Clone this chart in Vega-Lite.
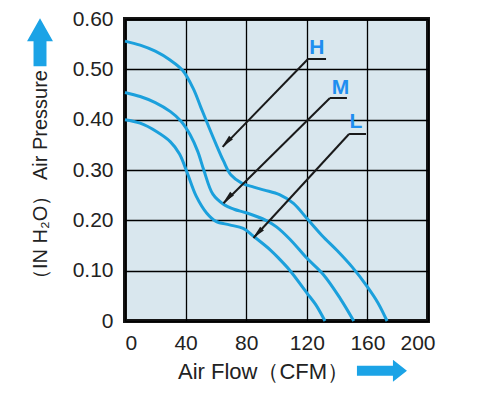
{
  "$schema": "https://vega.github.io/schema/vega-lite/v6.json",
  "autosize": "none",
  "width": 303,
  "height": 302,
  "padding": {"left": 125, "top": 19, "right": 73, "bottom": 72},
  "background": "#ffffff",
  "config": {
    "view": {"fill": "#d9e7ee", "stroke": "#151515", "strokeWidth": 4},
    "font": "Liberation Sans",
    "axis": {
      "domain": false,
      "ticks": false,
      "grid": true,
      "gridColor": "#000000",
      "gridWidth": 1.3,
      "gridOpacity": 1,
      "labelFont": "Liberation Sans",
      "labelFontSize": 21,
      "labelColor": "#222222",
      "titleFont": "Liberation Sans",
      "titleFontSize": 21,
      "titleFontWeight": "normal",
      "titleColor": "#222222"
    }
  },
  "datasets": {
    "curves": [
      {"series": "H", "cfm": 0, "inH2O": 0.556},
      {"series": "H", "cfm": 10, "inH2O": 0.548},
      {"series": "H", "cfm": 20, "inH2O": 0.536},
      {"series": "H", "cfm": 30, "inH2O": 0.518},
      {"series": "H", "cfm": 38, "inH2O": 0.498},
      {"series": "H", "cfm": 45, "inH2O": 0.462},
      {"series": "H", "cfm": 50, "inH2O": 0.425},
      {"series": "H", "cfm": 55, "inH2O": 0.388},
      {"series": "H", "cfm": 60, "inH2O": 0.352},
      {"series": "H", "cfm": 65, "inH2O": 0.318},
      {"series": "H", "cfm": 70, "inH2O": 0.29},
      {"series": "H", "cfm": 77, "inH2O": 0.274},
      {"series": "H", "cfm": 85, "inH2O": 0.266},
      {"series": "H", "cfm": 92, "inH2O": 0.26},
      {"series": "H", "cfm": 102, "inH2O": 0.251},
      {"series": "H", "cfm": 111, "inH2O": 0.234},
      {"series": "H", "cfm": 120, "inH2O": 0.204},
      {"series": "H", "cfm": 130, "inH2O": 0.17},
      {"series": "H", "cfm": 140, "inH2O": 0.14},
      {"series": "H", "cfm": 150, "inH2O": 0.107},
      {"series": "H", "cfm": 160, "inH2O": 0.068},
      {"series": "H", "cfm": 167, "inH2O": 0.036},
      {"series": "H", "cfm": 173, "inH2O": 0.0},
      {"series": "M", "cfm": 0, "inH2O": 0.454},
      {"series": "M", "cfm": 10, "inH2O": 0.446},
      {"series": "M", "cfm": 20, "inH2O": 0.434},
      {"series": "M", "cfm": 30, "inH2O": 0.416},
      {"series": "M", "cfm": 37, "inH2O": 0.397},
      {"series": "M", "cfm": 43, "inH2O": 0.37},
      {"series": "M", "cfm": 48, "inH2O": 0.337},
      {"series": "M", "cfm": 52, "inH2O": 0.3},
      {"series": "M", "cfm": 58, "inH2O": 0.252},
      {"series": "M", "cfm": 65, "inH2O": 0.232},
      {"series": "M", "cfm": 72, "inH2O": 0.222},
      {"series": "M", "cfm": 80, "inH2O": 0.215},
      {"series": "M", "cfm": 93, "inH2O": 0.2},
      {"series": "M", "cfm": 100, "inH2O": 0.187},
      {"series": "M", "cfm": 109, "inH2O": 0.162},
      {"series": "M", "cfm": 120, "inH2O": 0.125},
      {"series": "M", "cfm": 131, "inH2O": 0.092},
      {"series": "M", "cfm": 142, "inH2O": 0.045},
      {"series": "M", "cfm": 151, "inH2O": 0.0},
      {"series": "L", "cfm": 0, "inH2O": 0.4},
      {"series": "L", "cfm": 10, "inH2O": 0.393},
      {"series": "L", "cfm": 21, "inH2O": 0.376},
      {"series": "L", "cfm": 30, "inH2O": 0.356},
      {"series": "L", "cfm": 36, "inH2O": 0.332},
      {"series": "L", "cfm": 41, "inH2O": 0.295},
      {"series": "L", "cfm": 47, "inH2O": 0.248},
      {"series": "L", "cfm": 54, "inH2O": 0.214},
      {"series": "L", "cfm": 60, "inH2O": 0.198},
      {"series": "L", "cfm": 69, "inH2O": 0.191},
      {"series": "L", "cfm": 78, "inH2O": 0.184},
      {"series": "L", "cfm": 85, "inH2O": 0.168},
      {"series": "L", "cfm": 96, "inH2O": 0.141},
      {"series": "L", "cfm": 102, "inH2O": 0.123},
      {"series": "L", "cfm": 109, "inH2O": 0.1},
      {"series": "L", "cfm": 120, "inH2O": 0.056},
      {"series": "L", "cfm": 126, "inH2O": 0.032},
      {"series": "L", "cfm": 132, "inH2O": 0.0}
    ],
    "leaders": [
      {"series": "H", "x": 132.7, "y": 0.5205, "x2": 120.8, "y2": 0.5205},
      {"series": "H", "x": 120.8, "y": 0.5205, "x2": 64.5, "y2": 0.346},
      {"series": "M", "x": 146.5, "y": 0.443, "x2": 135.3, "y2": 0.443},
      {"series": "M", "x": 135.3, "y": 0.443, "x2": 65.0, "y2": 0.234},
      {"series": "L", "x": 159.1, "y": 0.3715, "x2": 147.9, "y2": 0.3715},
      {"series": "L", "x": 147.9, "y": 0.3715, "x2": 84.8, "y2": 0.165}
    ],
    "tips": [
      {"series": "H", "x": 64.0, "y": 0.3457},
      {"series": "M", "x": 64.7, "y": 0.2344},
      {"series": "L", "x": 84.5, "y": 0.1649}
    ],
    "labels": [
      {"series": "H", "x": 126.6, "y": 0.5424},
      {"series": "M", "x": 142.2, "y": 0.4639},
      {"series": "L", "x": 152.4, "y": 0.3944}
    ],
    "rightArrow": [{"x": 169.6, "y": -0.099}],
    "upArrow": [{"x": -56.1, "y": 0.554}]
  },
  "layer": [
    {
      "data": {"name": "curves"},
      "mark": {"type": "line", "interpolate": "catmull-rom", "color": "#1ba0dc", "strokeWidth": 3},
      "encoding": {
        "x": {
          "field": "cfm", "type": "quantitative",
          "scale": {"domain": [0, 200], "nice": false},
          "axis": {
            "values": [0, 40, 80, 120, 160, 200],
            "labelPadding": 11,
            "labelOffset": {"condition": {"test": "datum.value == 200", "value": 7}, "value": 0},
            "title": "Air Flow（CFM）",
            "titleFontSize": 22,
            "titleX": 138, "titleY": 50,
            "titleAlign": "center", "titleBaseline": "middle"
          }
        },
        "y": {
          "field": "inH2O", "type": "quantitative",
          "scale": {"domain": [0, 0.6], "nice": false},
          "axis": {
            "values": [0, 0.1, 0.2, 0.3, 0.4, 0.5, 0.6],
            "labelExpr": "datum.value == 0 ? '0' : format(datum.value, '.2f')",
            "labelPadding": 12,
            "title": "（IN H₂O） Air Pressure",
            "titleFontSize": 20,
            "titleX": -85, "titleY": 160,
            "titleAlign": "center", "titleBaseline": "middle", "titleAngle": 270
          }
        },
        "detail": {"field": "series"}
      }
    },
    {
      "data": {"name": "leaders"},
      "mark": {"type": "rule", "color": "#1a1a1a", "strokeWidth": 2},
      "encoding": {
        "x": {"field": "x", "type": "quantitative"},
        "y": {"field": "y", "type": "quantitative"},
        "x2": {"field": "x2"},
        "y2": {"field": "y2"}
      }
    },
    {
      "data": {"name": "tips"},
      "mark": {"type": "point", "shape": "M0,0L0.4,2L-0.4,2Z", "filled": true, "color": "#1a1a1a", "opacity": 1, "size": 169, "angle": 224},
      "encoding": {
        "x": {"field": "x", "type": "quantitative"},
        "y": {"field": "y", "type": "quantitative"}
      }
    },
    {
      "data": {"name": "labels"},
      "mark": {"type": "text", "font": "Liberation Sans", "fontSize": 21, "fontWeight": "bold", "color": "#1f8ef0", "align": "center", "baseline": "middle"},
      "encoding": {
        "x": {"field": "x", "type": "quantitative"},
        "y": {"field": "y", "type": "quantitative"},
        "text": {"field": "series"}
      }
    },
    {
      "data": {"name": "rightArrow"},
      "mark": {"type": "point", "shape": "M-1,-0.2L0.44,-0.2L0.44,-0.44L1,0L0.44,0.44L0.44,0.2L-1,0.2Z", "filled": true, "color": "#1ba3e6", "opacity": 1, "size": 2500},
      "encoding": {
        "x": {"field": "x", "type": "quantitative"},
        "y": {"field": "y", "type": "quantitative"}
      }
    },
    {
      "data": {"name": "upArrow"},
      "mark": {"type": "point", "shape": "M0,-1L0.54,-0.04L0.27,-0.04L0.27,1L-0.27,1L-0.27,-0.04L-0.54,-0.04Z", "filled": true, "color": "#1ba3e6", "opacity": 1, "size": 2304},
      "encoding": {
        "x": {"field": "x", "type": "quantitative"},
        "y": {"field": "y", "type": "quantitative"}
      }
    }
  ]
}
